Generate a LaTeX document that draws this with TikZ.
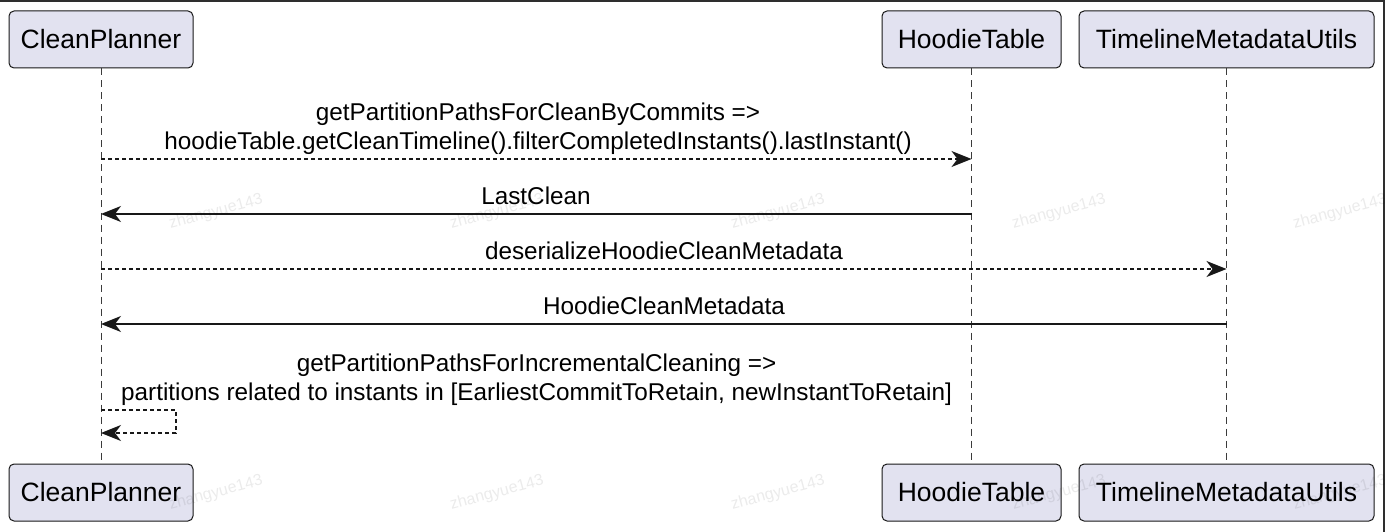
\documentclass[tikz,border=0pt]{standalone}
\usepackage{fontspec}
\setmainfont{Liberation Sans}
\usetikzlibrary{arrows.meta}
\definecolor{boxfill}{HTML}{E2E2F0}
\definecolor{ink}{HTML}{181818}
\definecolor{frameink}{HTML}{2E2E2E}

\begin{document}
\begin{tikzpicture}[x=1pt,y=-1pt,
  actor/.style={draw=ink, line width=1pt, fill=boxfill, rounded corners=5pt,
    minimum height=57pt, inner sep=0pt, font=\fontsize{26.5}{30}\selectfont},
  lifeline/.style={draw=ink!85, line width=0.9pt, dash pattern=on 7pt off 5pt},
  tipshape/.style={-{Stealth[length=20pt,width=16pt,inset=6pt]}},
  call/.style={draw=ink, line width=1.5pt, dash pattern=on 4pt off 3pt, tipshape},
  reply/.style={draw=ink, line width=1.5pt, tipshape},
  msg/.style={inner sep=0pt, align=center, font=\fontsize{24.3}{29.5}\selectfont},
  wmark/.style={inner sep=0pt, text=black, opacity=0.08, rotate=15,
    font=\fontsize{16}{18}\selectfont},
]
\useasboundingbox (0,0) rectangle (1385,532);

% participants, top row
\node[actor, minimum width=184pt] (cp) at (101,39.5) {CleanPlanner};
\node[actor, minimum width=179pt] (ht) at (971.5,39.5) {HoodieTable};
\node[actor, minimum width=295pt] (tm) at (1226.5,39.5) {TimelineMetadataUtils};

% participants, bottom row
\node[actor, minimum width=184pt] (cpb) at (101,492.5) {CleanPlanner};
\node[actor, minimum width=179pt] (htb) at (971.5,492.5) {HoodieTable};
\node[actor, minimum width=295pt] (tmb) at (1226.5,492.5) {TimelineMetadataUtils};

% lifelines
\draw[lifeline] (cp) -- (cpb);
\draw[lifeline] (ht) -- (htb);
\draw[lifeline] (tm) -- (tmb);

% 1: CleanPlanner -> HoodieTable
\draw[call] (cp |- 0,159) -- (ht |- 0,159);
\node[msg, anchor=south] (lab1) at (538,159)
  {getPartitionPathsForCleanByCommits =>\\
   hoodieTable.getCleanTimeline().filterCompletedInstants().lastInstant()\strut};

% 2: HoodieTable -> CleanPlanner
\draw[reply] (ht |- 0,214) -- (cp |- 0,214);
\node[msg, anchor=south] (lab2) at (536,214) {LastClean\strut};

% 3: CleanPlanner -> TimelineMetadataUtils
\draw[call] (cp |- 0,269) -- (tm |- 0,269);
\node[msg, anchor=south] (lab3) at (664,269) {deserializeHoodieCleanMetadata\strut};

% 4: TimelineMetadataUtils -> CleanPlanner
\draw[reply] (tm |- 0,324) -- (cp |- 0,324);
\node[msg, anchor=south] (lab4) at (664,324) {HoodieCleanMetadata\strut};

% 5: self call on CleanPlanner
\coordinate (loopa) at (176,410);
\coordinate (loopb) at (176,433);
\draw[call] (cp |- loopa) -- (loopa) -- (loopb) -- (cp |- loopb);
\node[msg, anchor=south west] (lab5) at (121,410)
  {getPartitionPathsForIncrementalCleaning =>\\
   partitions related to instants in [EarliestCommitToRetain, newInstantToRetain]\strut};

% outer frame edges
\draw[frameink, line width=2.4pt] (0,1.2) -- (1385,1.2);
\draw[frameink, line width=2pt] (1384,0) -- (1384,532);

% watermark
\foreach \wx in {216,497,778,1059,1340}
  \foreach \wy in {212,493}
    \node[wmark] (wm-\wx-\wy) at (\wx,\wy) {zhangyue143};
\end{tikzpicture}
\end{document}
